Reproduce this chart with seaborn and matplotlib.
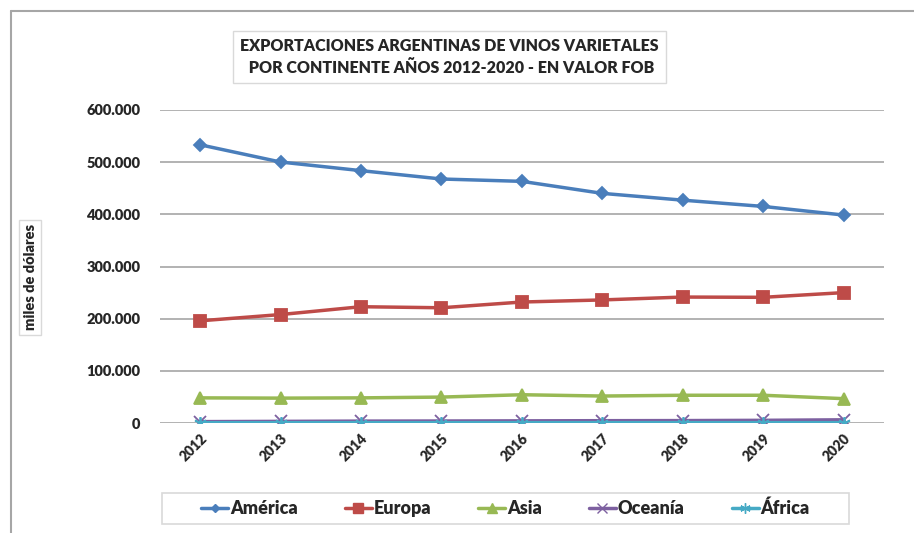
import matplotlib
matplotlib.use("Agg")
import matplotlib.pyplot as plt
from matplotlib.ticker import FuncFormatter
from matplotlib.patches import Rectangle
from matplotlib.lines import Line2D
import pandas as pd
import seaborn as sns

# Datos (miles de dólares FOB)
years = ["2012", "2013", "2014", "2015", "2016", "2017", "2018", "2019", "2020"]
america = [533000, 500000, 483500, 467500, 463000, 440000, 427000, 415000, 398500]
europa = [196000, 208000, 223000, 221000, 232000, 236000, 241500, 241000, 250000]
asia = [48500, 48000, 48500, 50000, 54500, 52000, 53500, 53500, 47000]
oceania = [3000, 3500, 4000, 4200, 4500, 4800, 5000, 5500, 6500]
africa = [900, 900, 950, 950, 1000, 1000, 1000, 1000, 1000]

series = ["América", "Europa", "Asia", "Oceanía", "África"]
colors = ["#4A7EBB", "#BE4B48", "#98B954", "#7D60A0", "#46AAC5"]
markers = ["D", "s", "^", "x", (6, 2, 0)]
msizes = [6, 8, 8, 8, 9]

df = pd.DataFrame({"year": years, "América": america, "Europa": europa,
                   "Asia": asia, "Oceanía": oceania, "África": africa})
df["pos"] = range(len(years))
long = df.melt(id_vars=["year", "pos"], value_vars=series,
               var_name="continente", value_name="valor")

sns.set_style("white")
plt.rcParams["font.family"] = ["Lato", "DejaVu Sans"]
W = "heavy"

fig = plt.figure(figsize=(9.14, 5.33), dpi=100)
ax = fig.add_axes([0.175, 0.206, 0.792, 0.588])

for name, c, m, ms in zip(series, colors, markers, msizes):
    sub = long[long["continente"] == name]
    sns.lineplot(data=sub, x="pos", y="valor", ax=ax, color=c, marker=m,
                 markersize=ms, markeredgecolor=c, markeredgewidth=1.3,
                 linewidth=2.5, label=name, legend=False)

ax.set_xlim(-0.5, len(years) - 0.5)
ax.set_ylim(0, 600000)
ax.set_yticks(range(0, 600001, 100000))
ax.yaxis.set_major_formatter(FuncFormatter(lambda v, p: f"{int(v):,}".replace(",", ".")))
ax.set_xticks(range(len(years)))
ax.set_xticklabels(years, rotation=45, ha="right", va="top", rotation_mode="anchor",
                   fontsize=10, fontweight=W)
for lbl in ax.get_yticklabels():
    lbl.set_fontsize(10.5)
    lbl.set_fontweight(W)
ax.tick_params(axis="y", pad=14, length=0)
ax.tick_params(axis="x", pad=6, length=0)
ax.grid(axis="y", color="#A6A6A6", linewidth=1.2)
ax.set_axisbelow(True)
for s in ax.spines.values():
    s.set_visible(False)
ax.set_xlabel("")
ax.set_ylabel("")

# marco del gráfico
fig.add_artist(Line2D([0.012, 1.0], [0.979, 0.979], color="#A6A6A6", linewidth=1.5))
fig.add_artist(Line2D([0.012, 0.012], [0.0, 0.979], color="#A6A6A6", linewidth=1.5))

# título
fig.text(0.492, 0.893, "EXPORTACIONES ARGENTINAS DE VINOS VARIETALES\n POR CONTINENTE AÑOS 2012-2020 - EN VALOR FOB",
         ha="center", va="center", fontsize=11.5, fontweight=W, linespacing=1.45,
         bbox=dict(boxstyle="square,pad=0.45", facecolor="white", edgecolor="#D9D9D9"))

# eje y
fig.text(0.033, 0.48, "miles de dólares", rotation=90, ha="center", va="center",
         fontsize=10.5, fontweight=W,
         bbox=dict(boxstyle="square,pad=0.3", facecolor="white", edgecolor="#D9D9D9"))

# leyenda
fig.add_artist(Rectangle((0.177, 0.017), 0.752, 0.058, transform=fig.transFigure,
                         facecolor="white", edgecolor="#D9D9D9", linewidth=1.2))
handles = [Line2D([], [], color=c, marker=m, markersize=ms - 1.5, markeredgecolor=c,
                  linewidth=2.5) for c, m, ms in zip(colors, markers, msizes)]
leg = fig.legend(handles, series, loc="center", bbox_to_anchor=(0.553, 0.046),
                 ncol=5, frameon=False, prop={"size": 13, "weight": W},
                 handlelength=1.5, handletextpad=0.1, columnspacing=2.6)

fig.savefig("out.png", dpi=100)
